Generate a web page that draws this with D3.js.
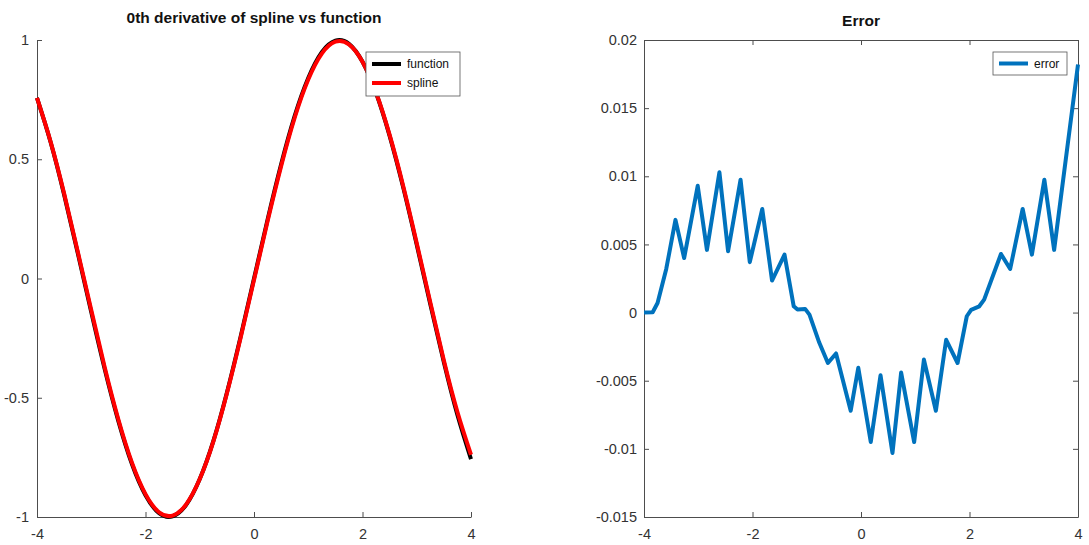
<!DOCTYPE html>
<html>
<head>
<meta charset="utf-8">
<script src="https://cdn.jsdelivr.net/npm/d3@7"></script>
<style>
  html, body { margin: 0; padding: 0; background: #fff; }
  svg { display: block; font-family: "Liberation Sans", Arial, sans-serif; }
</style>
</head>
<body>
<svg id="chart" width="1089" height="545"></svg>
<script>
// Sample points of the function and its spline approximation
const xs = [-4, -3.75, -3.5, -3.25, -3, -2.75, -2.5, -2.25, -2, -1.75, -1.5, -1.25, -1, -0.75, -0.5, -0.25,
            0, 0.25, 0.5, 0.75, 1, 1.25, 1.5, 1.75, 2, 2.25, 2.5, 2.75, 3, 3.25, 3.5, 3.75, 4];
const functionValues = [0.757, 0.572, 0.351, 0.108, -0.141, -0.382, -0.598, -0.778, -0.909, -0.984, -0.997, -0.949,
            -0.841, -0.682, -0.479, -0.247, 0, 0.247, 0.479, 0.682, 0.841, 0.949, 0.997, 0.984, 0.909,
            0.778, 0.598, 0.382, 0.141, -0.108, -0.351, -0.572, -0.757];
const splineValues = [0.757, 0.574, 0.356, 0.114, -0.132, -0.374, -0.591, -0.772, -0.904, -0.980, -0.994, -0.947,
            -0.841, -0.684, -0.482, -0.252, -0.006, 0.240, 0.471, 0.674, 0.834, 0.943, 0.993, 0.982, 0.909,
            0.780, 0.602, 0.388, 0.148, -0.100, -0.344, -0.560, -0.739];

// Error between spline and function
const errX = [-4, -3.84, -3.75, -3.59, -3.42, -3.26, -3.01, -2.84, -2.61, -2.45, -2.22, -2.05, -1.82, -1.64,
              -1.41, -1.24, -1.17, -1.03, -0.95, -0.77, -0.61, -0.46, -0.19, -0.05, 0.18, 0.36, 0.58, 0.74,
              0.98, 1.16, 1.38, 1.57, 1.78, 1.95, 2.03, 2.18, 2.27, 2.58, 2.75, 2.98, 3.15, 3.38, 3.56, 4];
const errY = [0, 0.00002, 0.0007, 0.0032, 0.0068, 0.0040, 0.0093, 0.0046, 0.0103, 0.0045, 0.00975, 0.0037, 0.0076, 0.00235,
              0.00425, 0.00046, 0.00022, 0.00027, -0.00015, -0.0022, -0.0037, -0.0030, -0.0072, -0.00405, -0.0095, -0.0046, -0.0103, -0.0044,
              -0.0095, -0.00345, -0.0072, -0.0020, -0.0037, -0.00027, 0.0002, 0.00046, 0.00095, 0.0043, 0.0032, 0.0076, 0.00425, 0.00975, 0.0046, 0.0182];

const xTicks = [-4, -2, 0, 2, 4];
const xTickLabels = ["-4", "-2", "0", "2", "4"];
const leftYTicks = [-1, -0.5, 0, 0.5, 1];
const leftYTickLabels = ["-1", "-0.5", "0", "0.5", "1"];
const rightYTicks = [-0.015, -0.01, -0.005, 0, 0.005, 0.01, 0.015, 0.02];
const rightYTickLabels = ["-0.015", "-0.01", "-0.005", "0", "0.005", "0.01", "0.015", "0.02"];

const svg = d3.select("#chart");
const axisColor = "#4d4d4d";
const textColor = "#333";

function styleAxis(g) {
  g.selectAll(".domain").attr("stroke", axisColor);
  g.selectAll(".tick line").attr("stroke", axisColor);
  g.selectAll(".tick text").attr("fill", textColor).attr("font-size", 14.5);
}
function fmt(ticks, labels) {
  return d => labels[ticks.indexOf(d)];
}

// ---------- Left panel: function vs spline ----------
const L = { left: 37, right: 471, top: 40, bottom: 517 };
const xL = d3.scaleLinear().domain([-4, 4]).range([L.left, L.right]);
const yL = d3.scaleLinear().domain([-1, 1]).range([L.bottom, L.top]);

svg.append("g").attr("transform", `translate(0,${L.bottom})`)
  .call(d3.axisBottom(xL).tickValues(xTicks).tickFormat(fmt(xTicks, xTickLabels))
        .tickSizeInner(-5).tickSizeOuter(0).tickPadding(12))
  .call(styleAxis);
svg.append("g").attr("transform", `translate(${L.left},0)`)
  .call(d3.axisLeft(yL).tickValues(leftYTicks).tickFormat(fmt(leftYTicks, leftYTickLabels))
        .tickSizeInner(-5).tickSizeOuter(0).tickPadding(8))
  .call(styleAxis);

const lineL = d3.line().curve(d3.curveNatural).x((d, i) => xL(xs[i])).y(d => yL(d));
svg.append("path").datum(functionValues).attr("d", lineL)
  .attr("fill", "none").attr("stroke", "#000").attr("stroke-width", 4).attr("stroke-linejoin", "round");
svg.append("path").datum(splineValues).attr("d", lineL)
  .attr("fill", "none").attr("stroke", "#ff0000").attr("stroke-width", 4).attr("stroke-linejoin", "round");

svg.append("text").attr("x", (L.left + L.right) / 2).attr("y", 22.5)
  .attr("text-anchor", "middle").attr("font-size", 15.5).attr("font-weight", "bold").attr("fill", "#111")
  .text("0th derivative of spline vs function");

// legend
const legL = svg.append("g");
legL.append("rect").attr("x", 366).attr("y", 52).attr("width", 94).attr("height", 44)
  .attr("fill", "#fff").attr("stroke", "#555").attr("stroke-width", 0.8);
[["function", "#000", 64], ["spline", "#ff0000", 83]].forEach(([name, c, y]) => {
  legL.append("line").attr("x1", 372).attr("x2", 401).attr("y1", y).attr("y2", y)
    .attr("stroke", c).attr("stroke-width", 4);
  legL.append("text").attr("x", 407).attr("y", y + 4).attr("font-size", 12).attr("fill", "#111").text(name);
});

// ---------- Right panel: error ----------
const R = { left: 644, right: 1078, top: 40, bottom: 517 };
const xR = d3.scaleLinear().domain([-4, 4]).range([R.left, R.right]);
const yR = d3.scaleLinear().domain([-0.015, 0.02]).range([R.bottom, R.top]);

svg.append("g").attr("transform", `translate(0,${R.bottom})`)
  .call(d3.axisBottom(xR).tickValues(xTicks).tickFormat(fmt(xTicks, xTickLabels))
        .tickSizeInner(-5).tickSizeOuter(0).tickPadding(12))
  .call(styleAxis);
svg.append("g").attr("transform", `translate(0,${R.top})`)
  .call(d3.axisTop(xR).tickValues(xTicks).tickFormat("")
        .tickSizeInner(-5).tickSizeOuter(0))
  .call(styleAxis);
svg.append("g").attr("transform", `translate(${R.left},0)`)
  .call(d3.axisLeft(yR).tickValues(rightYTicks).tickFormat(fmt(rightYTicks, rightYTickLabels))
        .tickSizeInner(-5).tickSizeOuter(0).tickPadding(7))
  .call(styleAxis);
svg.append("g").attr("transform", `translate(${R.right},0)`)
  .call(d3.axisRight(yR).tickValues(rightYTicks).tickFormat("")
        .tickSizeInner(-5).tickSizeOuter(0))
  .call(styleAxis);

const lineR = d3.line().x((d, i) => xR(errX[i])).y(d => yR(d));
svg.append("path").datum(errY).attr("d", lineR)
  .attr("fill", "none").attr("stroke", "#0072bd").attr("stroke-width", 4)
  .attr("stroke-linejoin", "round").attr("stroke-linecap", "butt");

svg.append("text").attr("x", (R.left + R.right) / 2).attr("y", 26)
  .attr("text-anchor", "middle").attr("font-size", 15.5).attr("font-weight", "bold").attr("fill", "#111")
  .text("Error");

const legR = svg.append("g");
legR.append("rect").attr("x", 993).attr("y", 52).attr("width", 74).attr("height", 23)
  .attr("fill", "#fff").attr("stroke", "#555").attr("stroke-width", 0.8);
legR.append("line").attr("x1", 999).attr("x2", 1028).attr("y1", 63.5).attr("y2", 63.5)
  .attr("stroke", "#0072bd").attr("stroke-width", 4);
legR.append("text").attr("x", 1034).attr("y", 67.5).attr("font-size", 12).attr("fill", "#111").text("error");
</script>
</body>
</html>
